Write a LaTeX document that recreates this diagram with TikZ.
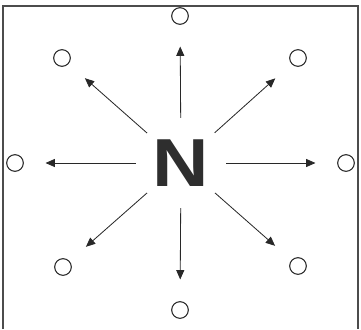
\documentclass[tikz,border=0pt]{standalone}
\usepackage{fontspec}
\setmainfont{Liberation Sans}
\usetikzlibrary{arrows.meta}
\definecolor{inkgray}{RGB}{40,40,40}

\begin{document}
\begin{tikzpicture}[x=0.03cm, y=-0.03cm,
    site/.style={circle, draw=inkgray, line width=0.9pt, minimum size=0.5cm,
                 inner sep=0pt},
    hub/.style={circle, minimum size=2.7cm, inner sep=0pt, text=black!82,
                font=\fontsize{58}{58}\selectfont\bfseries},
    flow/.style={-{Triangle[length=2.8mm, width=2.4mm]}, line width=0.7pt,
                 draw=inkgray, shorten >=0.65cm}]
  \useasboundingbox (0,0) rectangle (361,329);
  % frame, open at the bottom
  \draw[line width=0.9pt, draw=black!70] (3,329) -- (3,6) -- (358,6) -- (358,329);
  \node[hub] (N) at (181,163) {\scalebox{1.15}[1]{N}};
  % surrounding sites
  \node[site] (n)  at (180,16)  {};
  \node[site] (ne) at (298,58)  {};
  \node[site] (e)  at (346,163) {};
  \node[site] (se) at (298,266) {};
  \node[site] (s)  at (180,310) {};
  \node[site] (sw) at (63,267)  {};
  \node[site] (w)  at (15,163)  {};
  \node[site] (nw) at (62,58)   {};
  \draw[flow] (N) -- (n);
  \draw[flow] (N) -- (ne);
  \draw[flow] (N) -- (e);
  \draw[flow] (N) -- (se);
  \draw[flow] (N) -- (s);
  \draw[flow] (N) -- (sw);
  \draw[flow] (N) -- (w);
  \draw[flow] (N) -- (nw);
\end{tikzpicture}
\end{document}
